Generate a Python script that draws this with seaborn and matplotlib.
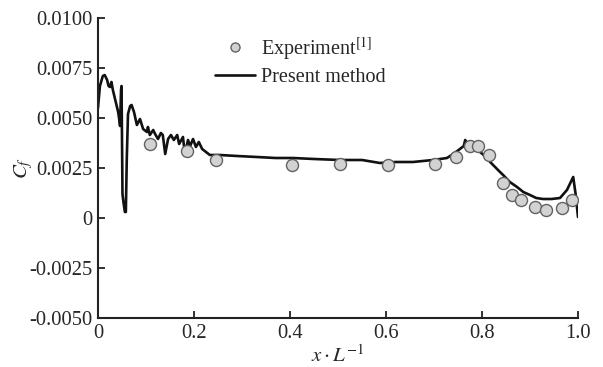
import matplotlib
matplotlib.use("Agg")
import matplotlib.pyplot as plt
import seaborn as sns
import pandas as pd
from matplotlib.lines import Line2D

# ---- data ----
x_exp = [0.108, 0.185, 0.246, 0.405, 0.504, 0.604, 0.702, 0.746, 0.775, 0.792,
         0.815, 0.844, 0.8625, 0.881, 0.910, 0.933, 0.967, 0.9875]
cf_exp = [0.0037, 0.00335, 0.0029, 0.00265, 0.00268, 0.00265, 0.0027, 0.00305, 0.0036, 0.0036,
          0.00315, 0.00175, 0.00115, 0.0009, 0.00055, 0.0004, 0.0005, 0.0009]

x_cfd = [0.000, 0.004, 0.010, 0.014, 0.019, 0.022, 0.025, 0.028, 0.031, 0.035,
         0.039, 0.042, 0.045, 0.046, 0.048, 0.049, 0.050, 0.051, 0.053, 0.056,
         0.058, 0.060, 0.0625, 0.067, 0.070, 0.075, 0.081, 0.0875, 0.094, 0.102,
         0.104, 0.108, 0.115, 0.119, 0.125, 0.131, 0.135, 0.140, 0.146, 0.152,
         0.158, 0.165, 0.169, 0.177, 0.181, 0.1875, 0.192, 0.198, 0.204, 0.210,
         0.217, 0.225, 0.233, 0.254, 0.290, 0.331, 0.370, 0.406, 0.450, 0.504,
         0.550, 0.5875, 0.620, 0.656, 0.698, 0.727, 0.740, 0.754, 0.762, 0.765,
         0.768, 0.771, 0.775, 0.781, 0.788, 0.796, 0.806, 0.817, 0.8375, 0.844,
         0.858, 0.873, 0.886, 0.900, 0.913, 0.927, 0.945, 0.9625, 0.977, 0.990,
         0.995, 1.000]
cf_cfd = [0.0055, 0.0066, 0.0071, 0.00715, 0.0069, 0.0066, 0.00655, 0.0068, 0.0064, 0.0060,
          0.0056, 0.0053, 0.0048, 0.0046, 0.0064, 0.0066, 0.0040, 0.0012, 0.0008, 0.0003,
          0.0003, 0.0030, 0.0052, 0.0056, 0.00565, 0.0053, 0.00465, 0.00495, 0.00445, 0.0043,
          0.00455, 0.00415, 0.0044, 0.0042, 0.00395, 0.00425, 0.00415, 0.0032, 0.00395, 0.00415,
          0.0039, 0.00415, 0.0037, 0.00405, 0.0032, 0.0039, 0.0036, 0.00395, 0.00355, 0.0038,
          0.00345, 0.0033, 0.00315, 0.00315, 0.0031, 0.00305, 0.0030, 0.0030, 0.00295, 0.0029,
          0.0029, 0.00275, 0.0028, 0.0028, 0.0029, 0.0030, 0.0032, 0.00345, 0.0036, 0.0039,
          0.0037, 0.0038, 0.0036, 0.00365, 0.0035, 0.0033, 0.0031, 0.0028, 0.0023, 0.00215,
          0.0018, 0.00155, 0.0013, 0.00115, 0.0010, 0.00095, 0.00095, 0.0010, 0.0014, 0.00205,
          0.0012, 0.00005]

x_ticks = [0, 0.2, 0.4, 0.6, 0.8, 1.0]
x_tick_labels = ["0", "0.2", "0.4", "0.6", "0.8", "1.0"]
y_ticks = [0.0100, 0.0075, 0.0050, 0.0025, 0.0, -0.0025, -0.0050]
y_tick_labels = ["0.0100", "0.0075", "0.0050", "0.0025", "0", "-0.0025", "-0.0050"]

labels = ["Experiment$^{[1]}$", "Present method"]

# ---- style ----
sns.set_style("ticks")
plt.rcParams["font.family"] = ["Liberation Serif", "DejaVu Serif"]
plt.rcParams["mathtext.fontset"] = "stix"

fig = plt.figure(figsize=(6.03, 3.67), dpi=100)
ax = fig.add_axes([98 / 603, 1 - 318 / 367, 480 / 603, 300 / 367])

df_cfd = pd.DataFrame({"x": x_cfd, "cf": cf_cfd})
df_exp = pd.DataFrame({"x": x_exp, "cf": cf_exp})

sns.lineplot(data=df_cfd, x="x", y="cf", ax=ax, color="#111111", linewidth=1.9,
             sort=False, estimator=None, zorder=2)
sns.scatterplot(data=df_exp, x="x", y="cf", ax=ax, s=75, color="#d2d2d2",
                edgecolor="#626262", linewidth=1.0, zorder=3)

ax.set_xlim(0, 1.0)
ax.set_ylim(-0.005, 0.010)
ax.set_xticks(x_ticks)
ax.set_xticklabels(x_tick_labels, fontsize=14.8)
ax.set_yticks(y_ticks)
ax.set_yticklabels(y_tick_labels, fontsize=14.8)
ax.tick_params(direction="in", length=5, width=1.3, color="#222222", pad=4)
for s in ["top", "right"]:
    ax.spines[s].set_visible(False)
for s in ["left", "bottom"]:
    ax.spines[s].set_linewidth(1.5)
    ax.spines[s].set_color("#222222")

ax.set_xlabel(r"$x\cdot L^{-1}$", fontsize=15, labelpad=2)
ax.set_ylabel(r"$C_f$", fontsize=15, labelpad=0)
ax.yaxis.set_label_coords(-0.132, 0.5)

handles = [
    Line2D([], [], linestyle="none", marker="o", markersize=6.5,
           markerfacecolor="#d2d2d2", markeredgecolor="#626262", markeredgewidth=1.0),
    Line2D([], [], color="#111111", linewidth=1.9),
]
ax.legend(handles, labels, loc="upper left", bbox_to_anchor=(215 / 603, 1 - 35 / 367),
          bbox_transform=fig.transFigure, frameon=False, fontsize=14.5,
          borderpad=0, borderaxespad=0, handlelength=2.0, handletextpad=0.3,
          labelspacing=0.3)

fig.savefig("out.png", dpi=100, facecolor="white")
